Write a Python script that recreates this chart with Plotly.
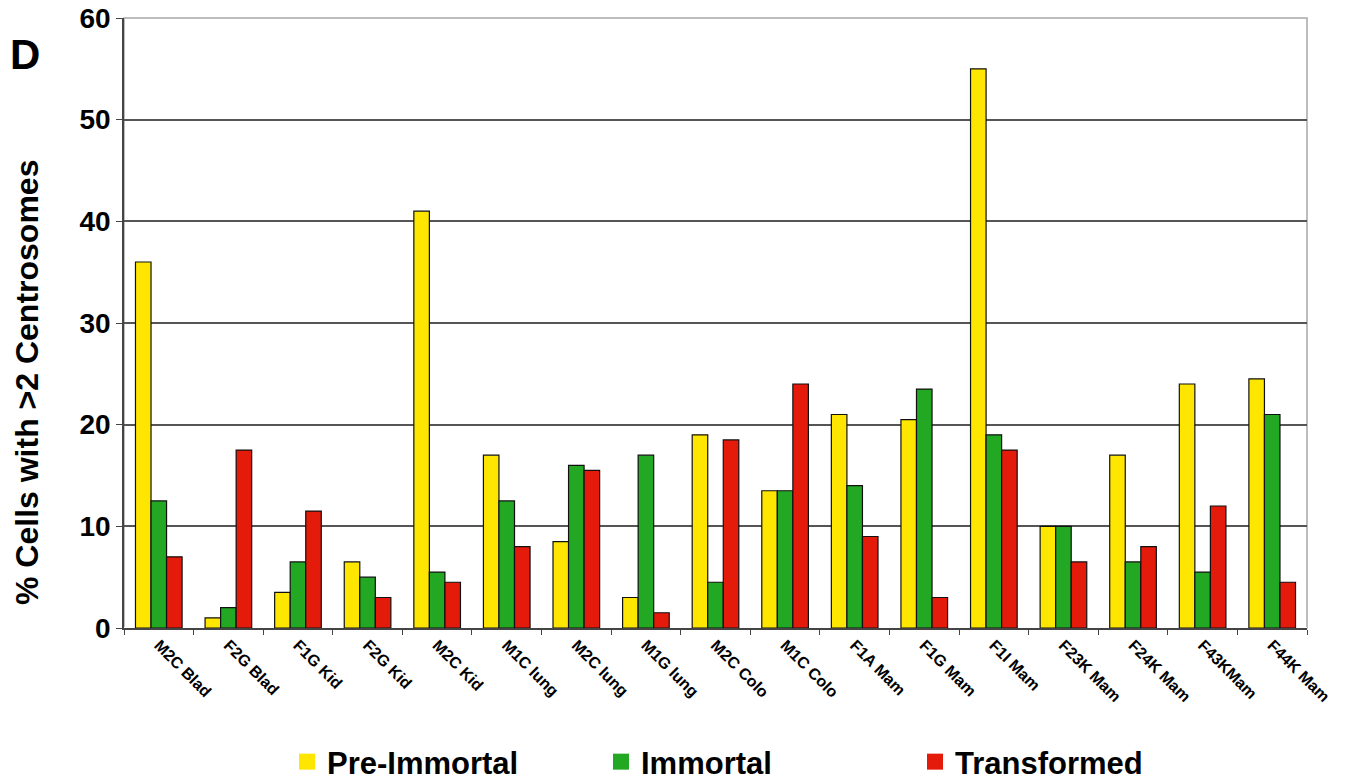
import plotly.graph_objects as go

# Cell lines and their centrosome-amplification percentages
cell_lines = ["M2C Blad", "F2G Blad", "F1G Kid", "F2G Kid", "M2C Kid", "M1C lung",
              "M2C lung", "M1G lung", "M2C Colo", "M1C Colo", "F1A Mam", "F1G Mam",
              "F1I Mam", "F23K Mam", "F24K Mam", "F43KMam", "F44K Mam"]
pre_immortal = [36, 1, 3.5, 6.5, 41, 17, 8.5, 3, 19, 13.5, 21, 20.5, 55, 10, 17, 24, 24.5]
immortal = [12.5, 2, 6.5, 5, 5.5, 12.5, 16, 17, 4.5, 13.5, 14, 23.5, 19, 10, 6.5, 5.5, 21]
transformed = [7, 17.5, 11.5, 3, 4.5, 8, 15.5, 1.5, 18.5, 24, 9, 3, 17.5, 6.5, 8, 12, 4.5]
y_ticks = [0, 10, 20, 30, 40, 50, 60]

series = [
    ("Pre-Immortal", pre_immortal, "#FFE600"),
    ("Immortal", immortal, "#22A822"),
    ("Transformed", transformed, "#E41A0A"),
]

FONT = "Liberation Sans, Arial, sans-serif"
W, H = 1345, 781
ML, MR, MT, MB = 124, 38, 18, 153
PW, PH = W - ML - MR, H - MT - MB


def px_x(x):
    return (x - ML) / PW


def px_y(y):
    return (H - MB - y) / PH


fig = go.Figure()
for name, vals, color in series:
    fig.add_trace(go.Bar(
        x=cell_lines, y=vals, name=name, showlegend=False,
        marker=dict(color=color, line=dict(color="#111111", width=1.2)),
    ))
# Larger square swatches for the legend
for name, vals, color in series:
    fig.add_trace(go.Scatter(
        x=[None], y=[None], mode="markers", name=name,
        marker=dict(symbol="square", size=20, color=color),
    ))

fig.update_layout(
    width=W, height=H,
    margin=dict(l=ML, r=MR, t=MT, b=MB, autoexpand=False),
    paper_bgcolor="white", plot_bgcolor="white",
    barmode="group", bargap=0.33, bargroupgap=0,
    font=dict(family=FONT, color="black"),
    legend=dict(
        orientation="h", x=px_x(287), y=px_y(789), xanchor="left", yanchor="bottom",
        entrywidth=269, entrywidthmode="pixels", itemsizing="trace",
        font=dict(size=31, family=FONT, weight="bold"),
    ),
    annotations=[
        dict(text="<b>D</b>", x=px_x(25), y=px_y(54), xref="paper", yref="paper",
             xanchor="center", yanchor="middle", showarrow=False,
             font=dict(size=42, family=FONT)),
        dict(text="<b>% Cells with >2 Centrosomes</b>", textangle=-90,
             x=px_x(27), y=px_y(383), xref="paper", yref="paper",
             xanchor="center", yanchor="middle", showarrow=False,
             font=dict(size=32, family=FONT)),
    ],
    shapes=[dict(type="rect", xref="paper", yref="paper", x0=0, x1=1, y0=0, y1=1,
                 line=dict(color="#a8a8a8", width=1.5), layer="below")],
)

fig.update_xaxes(
    tickangle=45, tickfont=dict(size=16, family=FONT, weight="bold"),
    ticks="outside", ticklen=5, tickcolor="#444", tickson="boundaries",
    showline=True, linecolor="#444", linewidth=1.5,
    showgrid=False, automargin=False,
)
fig.update_yaxes(
    range=[0, 60], tickvals=y_ticks,
    tickfont=dict(size=28, family=FONT, weight="bold"),
    ticks="outside", ticklen=6, tickcolor="#444",
    showline=True, linecolor="#444", linewidth=1.5,
    showgrid=True, gridcolor="#555", gridwidth=1.5, automargin=False,
)

fig.write_html("out.html")
